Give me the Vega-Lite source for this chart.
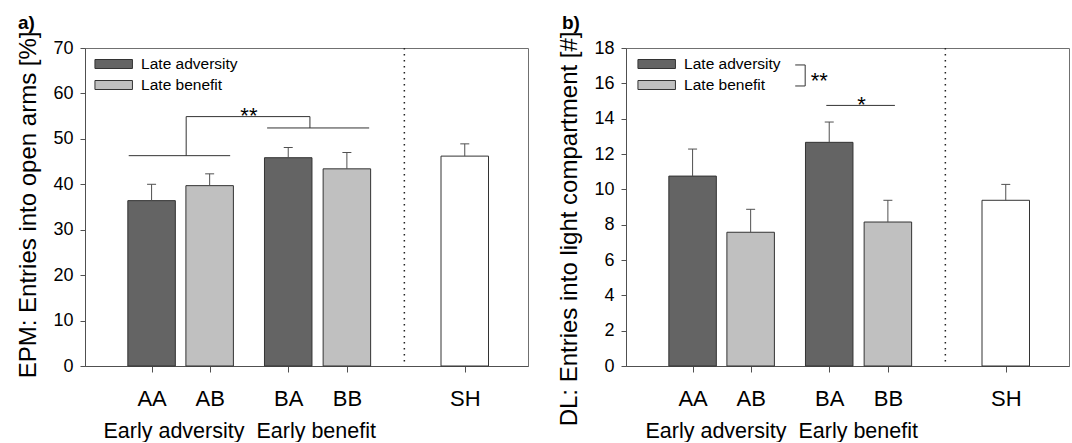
{
  "$schema": "https://vega.github.io/schema/vega-lite/v6.json",
  "background": "white",
  "padding": {"left": 15, "top": 13, "right": 5, "bottom": 0},
  "bounds": "flush",
  "spacing": 98,
  "config": {
    "font": "Liberation Sans",
    "view": {"stroke": "#707070", "strokeWidth": 1},
    "axis": {"domainColor": "#505050", "tickColor": "#505050", "labelColor": "#000", "titleColor": "#000", "grid": false, "labelFont": "Liberation Sans", "titleFont": "Liberation Sans", "titleFontWeight": "normal", "labelOverlap": false},
    "title": {"font": "Liberation Sans", "fontWeight": "bold", "fontSize": 19, "anchor": "start", "frame": "group", "color": "#000"},
    "legend": {"orient": "none", "legendX": 18.7, "legendY": 6, "title": null, "symbolType": "M-2,-0.48H2V0.48H-2Z", "symbolSize": 351.6, "symbolStrokeColor": "#333", "symbolStrokeWidth": 1, "symbolOpacity": 1, "labelFont": "Liberation Sans", "labelFontSize": 15.5, "labelColor": "#000", "rowPadding": 2, "labelOffset": 17.4, "padding": 0}
  },
  "datasets": {
    "epm": [
      {"group": "AA", "pos": 1.05, "mean": 36.4, "upper": 40.0, "late": "Late adversity"},
      {"group": "AB", "pos": 2.04, "mean": 39.7, "upper": 42.3, "late": "Late benefit"},
      {"group": "BA", "pos": 3.38, "mean": 45.85, "upper": 48.1, "late": "Late adversity"},
      {"group": "BB", "pos": 4.38, "mean": 43.4, "upper": 47.0, "late": "Late benefit"},
      {"group": "SH", "pos": 6.39, "mean": 46.2, "upper": 48.9, "late": "Sham"}
    ],
    "dl": [
      {"group": "AA", "pos": 1.05, "mean": 10.75, "upper": 12.28, "late": "Late adversity"},
      {"group": "AB", "pos": 2.04, "mean": 7.57, "upper": 8.87, "late": "Late benefit"},
      {"group": "BA", "pos": 3.38, "mean": 12.66, "upper": 13.81, "late": "Late adversity"},
      {"group": "BB", "pos": 4.38, "mean": 8.15, "upper": 9.38, "late": "Late benefit"},
      {"group": "SH", "pos": 6.39, "mean": 9.38, "upper": 10.28, "late": "Sham"}
    ],
    "sep": [{"pos": 5.36}],
    "epm_sig": [
      {"x1": 0.66, "x2": 2.39, "y1": 46.3, "y2": 46.3},
      {"x1": 1.64, "x2": 1.64, "y1": 46.3, "y2": 54.9},
      {"x1": 1.64, "x2": 3.75, "y1": 54.9, "y2": 54.9},
      {"x1": 3.75, "x2": 3.75, "y1": 54.9, "y2": 52.4},
      {"x1": 3.02, "x2": 4.76, "y1": 52.4, "y2": 52.4}
    ],
    "epm_stars": [{"x": 2.71, "y": 53.5, "t": "**"}],
    "dl_sig": [
      {"x1": 3.33, "x2": 4.50, "y1": 14.75, "y2": 14.75},
      {"x1": 2.97, "x2": 2.97, "y1": 15.85, "y2": 17.04},
      {"x1": 2.80, "x2": 2.97, "y1": 17.04, "y2": 17.04},
      {"x1": 2.80, "x2": 2.97, "y1": 15.85, "y2": 15.85}
    ],
    "dl_stars": [{"x": 3.93, "y": 14.35, "t": "*"}, {"x": 3.21, "y": 15.76, "t": "**"}]
  },
  "hconcat": [
    {
      "width": 443,
      "height": 318,
      "title": {"text": "a)", "dx": -67, "offset": -2},
      "layer": [
        {
          "data": {"name": "epm"},
          "mark": {"type": "bar", "size": 47.5, "stroke": "#333", "strokeWidth": 1, "orient": "vertical"},
          "encoding": {
            "x": {"field": "pos", "type": "quantitative", "scale": {"domain": [0, 7.383], "nice": false, "zero": false},
              "axis": {"values": [1.05, 2.04, 3.38, 4.38, 6.39], "tickCount": 20, "labelExpr": "datum.value < 1.5 ? 'AA' : datum.value < 2.5 ? 'AB' : datum.value < 4 ? 'BA' : datum.value < 5 ? 'BB' : 'SH'", "labelFontSize": 22, "labelOverlap": false, "tickSize": 6, "labelPadding": 16, "title": "Early adversity\u00a0\u00a0Early benefit", "titleFontSize": 21.5, "titleX": 18, "titleY": 71, "titleAlign": "left", "titleAnchor": null, "titleBaseline": "alphabetic"}},
            "y": {"field": "mean", "type": "quantitative", "scale": {"domain": [0, 70], "nice": false},
              "axis": {"values": [0, 10, 20, 30, 40, 50, 60, 70], "tickCount": 20, "labelOverlap": false, "title": "EPM: Entries into open arms [%]", "titleFontSize": 24, "titleX": -50, "titleY": -17, "titleAlign": "right", "titleBaseline": "alphabetic", "labelFontSize": 18, "tickSize": 5, "labelPadding": 7}},
            "fill": {"field": "late", "type": "nominal", "scale": {"domain": ["Late adversity", "Late benefit", "Sham"], "range": ["#646464", "#c0c0c0", "#ffffff"]}, "legend": {"values": ["Late adversity", "Late benefit"]}}
          }
        },
        {
          "data": {"name": "epm"},
          "mark": {"type": "rule", "color": "#505050", "strokeWidth": 1},
          "encoding": {"x": {"field": "pos", "type": "quantitative"}, "y": {"field": "mean", "type": "quantitative"}, "y2": {"field": "upper"}}
        },
        {
          "data": {"name": "epm"},
          "mark": {"type": "tick", "orient": "horizontal", "size": 9, "thickness": 1, "color": "#505050", "opacity": 1},
          "encoding": {"x": {"field": "pos", "type": "quantitative"}, "y": {"field": "upper", "type": "quantitative"}}
        },
        {
          "data": {"name": "sep"},
          "mark": {"type": "rule", "color": "#222", "strokeWidth": 1.5, "strokeDash": [1.5, 4.5]},
          "encoding": {"x": {"field": "pos", "type": "quantitative"}}
        },
        {
          "data": {"name": "epm_sig"},
          "mark": {"type": "rule", "color": "#333", "strokeWidth": 1},
          "encoding": {"x": {"field": "x1", "type": "quantitative"}, "x2": {"field": "x2"}, "y": {"field": "y1", "type": "quantitative"}, "y2": {"field": "y2"}}
        },
        {
          "data": {"name": "epm_stars"},
          "mark": {"type": "text", "fontSize": 22, "align": "center", "baseline": "alphabetic", "color": "#000"},
          "encoding": {"x": {"field": "x", "type": "quantitative"}, "y": {"field": "y", "type": "quantitative"}, "text": {"field": "t"}}
        }
      ]
    },
    {
      "width": 443,
      "height": 318,
      "title": {"text": "b)", "dx": -64, "offset": -2},
      "layer": [
        {
          "data": {"name": "dl"},
          "mark": {"type": "bar", "size": 47.5, "stroke": "#333", "strokeWidth": 1, "orient": "vertical"},
          "encoding": {
            "x": {"field": "pos", "type": "quantitative", "scale": {"domain": [0, 7.383], "nice": false, "zero": false},
              "axis": {"values": [1.05, 2.04, 3.38, 4.38, 6.39], "tickCount": 20, "labelExpr": "datum.value < 1.5 ? 'AA' : datum.value < 2.5 ? 'AB' : datum.value < 4 ? 'BA' : datum.value < 5 ? 'BB' : 'SH'", "labelFontSize": 22, "labelOverlap": false, "tickSize": 6, "labelPadding": 16, "title": "Early adversity\u00a0\u00a0Early benefit", "titleFontSize": 21.5, "titleX": 19, "titleY": 71, "titleAlign": "left", "titleAnchor": null, "titleBaseline": "alphabetic"}},
            "y": {"field": "mean", "type": "quantitative", "scale": {"domain": [0, 18], "nice": false},
              "axis": {"values": [0, 2, 4, 6, 8, 10, 12, 14, 16, 18], "tickCount": 20, "labelOverlap": false, "title": "DL: Entries into light compartment [#]", "titleFontSize": 24, "titleX": -50, "titleY": -17, "titleAlign": "right", "titleBaseline": "alphabetic", "labelFontSize": 18, "tickSize": 5, "labelPadding": 7}},
            "fill": {"field": "late", "type": "nominal", "scale": {"domain": ["Late adversity", "Late benefit", "Sham"], "range": ["#646464", "#c0c0c0", "#ffffff"]}, "legend": {"values": ["Late adversity", "Late benefit"], "legendX": 20.7}}
          }
        },
        {
          "data": {"name": "dl"},
          "mark": {"type": "rule", "color": "#505050", "strokeWidth": 1},
          "encoding": {"x": {"field": "pos", "type": "quantitative"}, "y": {"field": "mean", "type": "quantitative"}, "y2": {"field": "upper"}}
        },
        {
          "data": {"name": "dl"},
          "mark": {"type": "tick", "orient": "horizontal", "size": 9, "thickness": 1, "color": "#505050", "opacity": 1},
          "encoding": {"x": {"field": "pos", "type": "quantitative"}, "y": {"field": "upper", "type": "quantitative"}}
        },
        {
          "data": {"name": "sep"},
          "mark": {"type": "rule", "color": "#222", "strokeWidth": 1.5, "strokeDash": [1.5, 4.5]},
          "encoding": {"x": {"field": "pos", "type": "quantitative"}}
        },
        {
          "data": {"name": "dl_sig"},
          "mark": {"type": "rule", "color": "#333", "strokeWidth": 1},
          "encoding": {"x": {"field": "x1", "type": "quantitative"}, "x2": {"field": "x2"}, "y": {"field": "y1", "type": "quantitative"}, "y2": {"field": "y2"}}
        },
        {
          "data": {"name": "dl_stars"},
          "mark": {"type": "text", "fontSize": 22, "align": "center", "baseline": "alphabetic", "color": "#000"},
          "encoding": {"x": {"field": "x", "type": "quantitative"}, "y": {"field": "y", "type": "quantitative"}, "text": {"field": "t"}}
        }
      ]
    }
  ],
  "resolve": {"scale": {"fill": "independent", "x": "independent", "y": "independent"}, "legend": {"fill": "independent"}}
}
